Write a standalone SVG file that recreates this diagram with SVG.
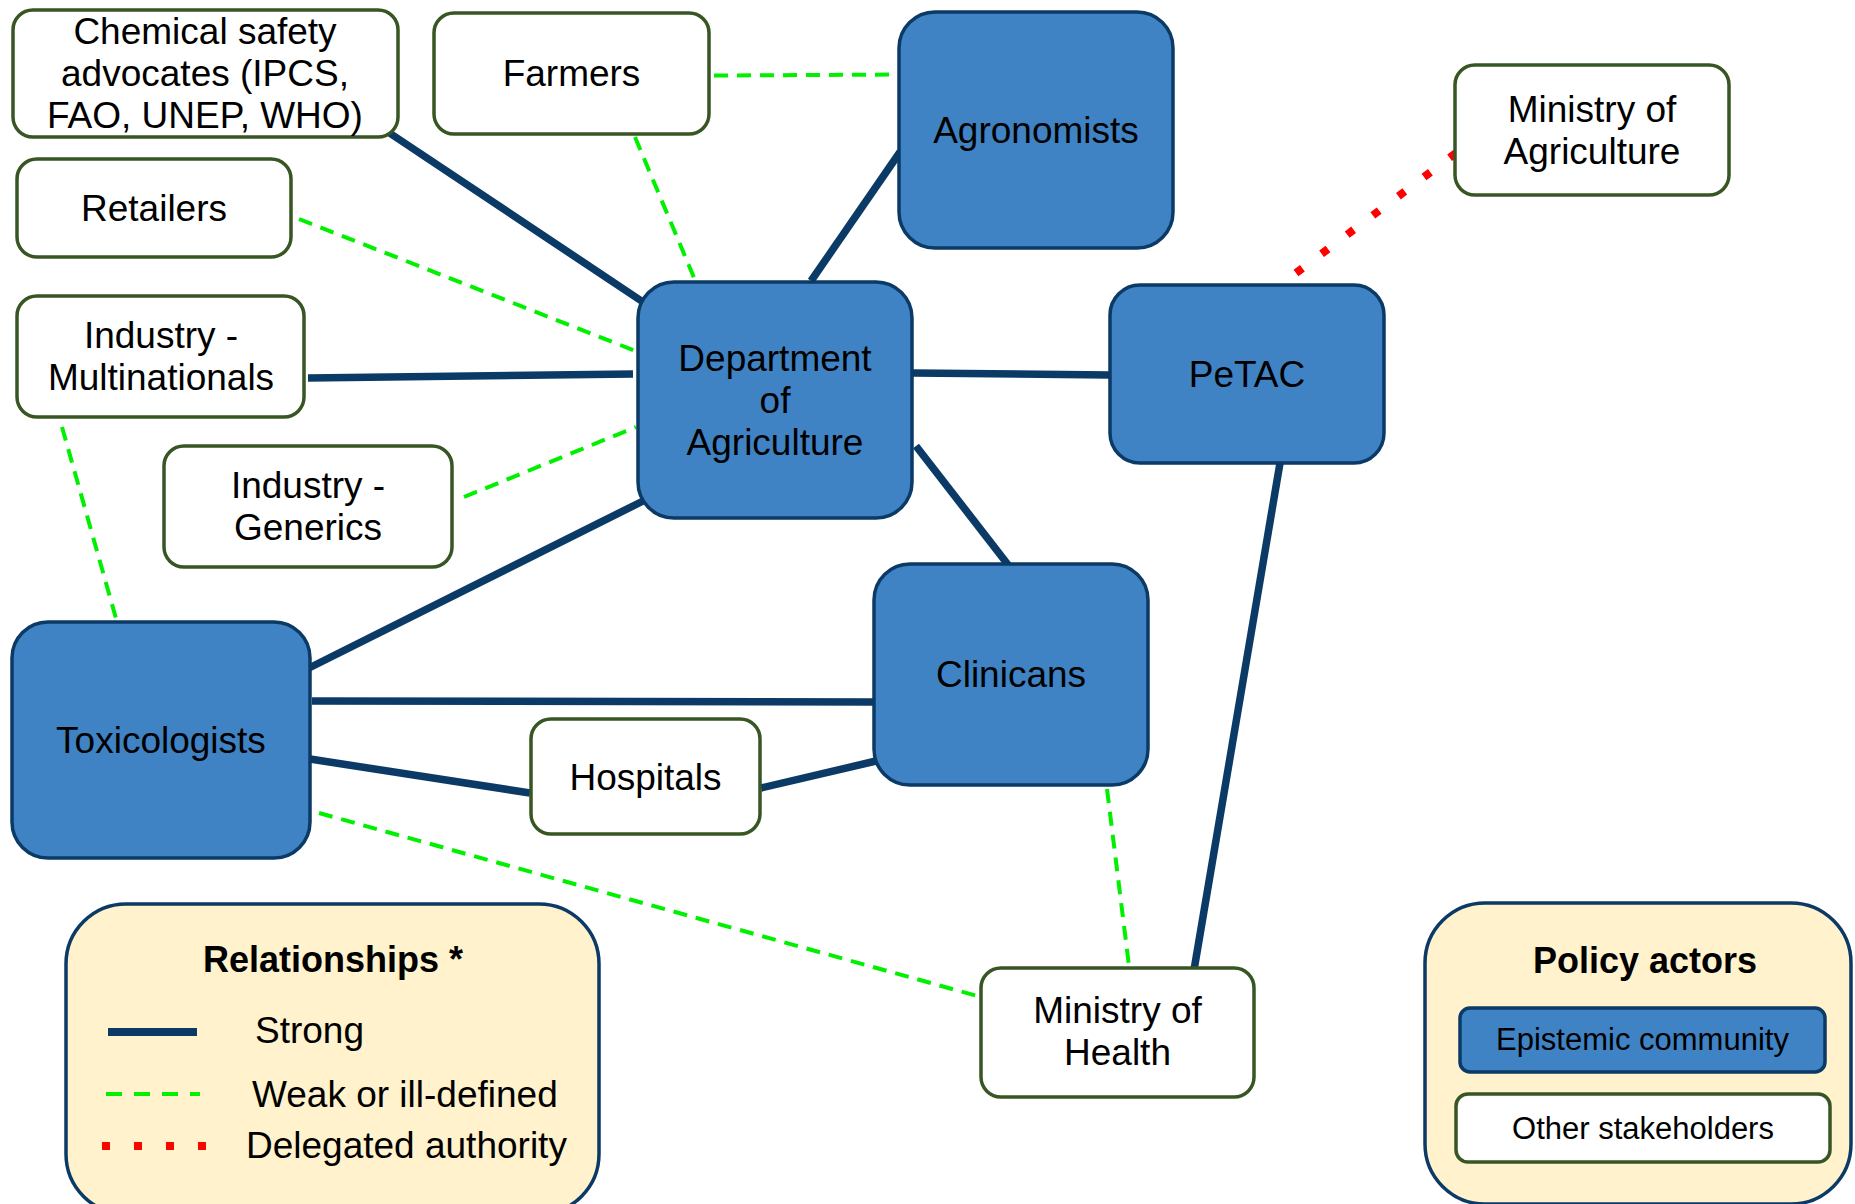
<svg xmlns="http://www.w3.org/2000/svg" width="1855" height="1204" viewBox="0 0 1855 1204">
<style>
text{font-family:"Liberation Sans",Arial,sans-serif;font-size:37px;fill:#000;text-anchor:middle}
.b{font-weight:bold;font-size:36px}
.s{font-size:31px}
.l{text-anchor:start;font-size:37px}
.ep rect{fill:#3F83C4;stroke:#0B3A66;stroke-width:3.5}
.ot rect{fill:#fff;stroke:#375623;stroke-width:3.5}
.strong{stroke:#0B3A66;stroke-width:7.5;fill:none}
.weak{stroke:#00F000;stroke-width:4;stroke-dasharray:14 9;fill:none}
.del{stroke:#FF0000;stroke-width:8;stroke-dasharray:8 24;fill:none}
.leg{fill:#FFF2CC;stroke:#0B3A66;stroke-width:3.5}
</style>
<rect width="1855" height="1204" fill="#fff"/>
<g id="connectors">
<line class="strong" x1="388" y1="132" x2="643" y2="302"/>
<line class="strong" x1="308" y1="378" x2="633" y2="374"/>
<line class="strong" x1="811" y1="281" x2="900" y2="152"/>
<line class="strong" x1="913" y1="373" x2="1110" y2="375"/>
<line class="strong" x1="916" y1="446" x2="1009" y2="566"/>
<line class="strong" x1="1280" y1="463" x2="1194" y2="970"/>
<line class="strong" x1="309" y1="668" x2="645" y2="500"/>
<line class="strong" x1="312" y1="701" x2="874" y2="702"/>
<line class="strong" x1="310" y1="759" x2="530" y2="793"/>
<line class="strong" x1="761" y1="788" x2="876" y2="761"/>
<line class="weak" x1="714" y1="75.5" x2="899" y2="74.5"/>
<line class="weak" x1="635" y1="137" x2="695" y2="280"/>
<line class="weak" x1="299" y1="219" x2="638" y2="352"/>
<line class="weak" x1="464" y1="497" x2="636" y2="427"/>
<line class="weak" x1="62" y1="427" x2="117" y2="622"/>
<line class="weak" x1="319" y1="813" x2="981" y2="997"/>
<line class="weak" x1="1107" y1="789" x2="1129" y2="966"/>
<line class="del" x1="1456" y1="153" x2="1296" y2="273"/>
</g>
<g id="chemical" class="ot"><rect x="13" y="10" width="385" height="127" rx="20"/><text x="205" y="44">Chemical safety</text><text x="205" y="86">advocates (IPCS,</text><text x="205" y="128">FAO, UNEP, WHO)</text></g>
<g id="farmers" class="ot"><rect x="434" y="13" width="275" height="121" rx="20"/><text x="571.5" y="86">Farmers</text></g>
<g id="retailers" class="ot"><rect x="17" y="159" width="274" height="98" rx="20"/><text x="154" y="221">Retailers</text></g>
<g id="multinationals" class="ot"><rect x="17" y="296" width="287" height="121" rx="20"/><text x="161" y="348">Industry -</text><text x="161" y="390">Multinationals</text></g>
<g id="generics" class="ot"><rect x="164" y="446" width="288" height="121" rx="20"/><text x="308" y="498">Industry -</text><text x="308" y="540">Generics</text></g>
<g id="hospitals" class="ot"><rect x="531" y="719" width="229" height="115" rx="20"/><text x="645.5" y="790">Hospitals</text></g>
<g id="moa" class="ot"><rect x="1455" y="65" width="274" height="130" rx="20"/><text x="1592" y="122">Ministry of</text><text x="1592" y="164">Agriculture</text></g>
<g id="moh" class="ot"><rect x="981" y="968" width="273" height="129" rx="20"/><text x="1117.5" y="1023">Ministry of</text><text x="1117.5" y="1065">Health</text></g>
<g id="agronomists" class="ep"><rect x="899" y="12" width="274" height="236" rx="36"/><text x="1036" y="143">Agronomists</text></g>
<g id="dept" class="ep"><rect x="638" y="282" width="274" height="236" rx="36"/><text x="775" y="371">Department</text><text x="775" y="413">of</text><text x="775" y="455">Agriculture</text></g>
<g id="petac" class="ep"><rect x="1110" y="285" width="274" height="178" rx="30"/><text x="1247" y="387">PeTAC</text></g>
<g id="toxicologists" class="ep"><rect x="12" y="622" width="298" height="236" rx="36"/><text x="161" y="753">Toxicologists</text></g>
<g id="clinicans" class="ep"><rect x="874" y="564" width="274" height="221" rx="36"/><text x="1011" y="687">Clinicans</text></g>
<g id="legend-relationships">
<rect class="leg" x="66" y="904" width="533" height="310" rx="60"/>
<text class="b" x="333" y="972">Relationships *</text>
<line x1="108" y1="1032" x2="197" y2="1032" stroke="#0B3A66" stroke-width="8"/>
<text class="l" x="255" y="1043">Strong</text>
<line x1="106" y1="1094" x2="200" y2="1094" stroke="#00F000" stroke-width="4" stroke-dasharray="16 12"/>
<text class="l" x="252" y="1107">Weak or ill-defined</text>
<line x1="102" y1="1146" x2="210" y2="1146" stroke="#FF0000" stroke-width="8" stroke-dasharray="8 24"/>
<text class="l" x="246" y="1158">Delegated authority</text>
</g>
<g id="legend-actors">
<rect class="leg" x="1425" y="903" width="426" height="301" rx="60"/>
<text class="b" x="1645" y="973">Policy actors</text>
<g class="ep"><rect x="1460" y="1008" width="365" height="64" rx="10"/></g>
<text class="s" x="1642.5" y="1050">Epistemic community</text>
<g class="ot"><rect x="1456" y="1094" width="374" height="68" rx="12"/></g>
<text class="s" x="1643" y="1139">Other stakeholders</text>
</g>
</svg>
